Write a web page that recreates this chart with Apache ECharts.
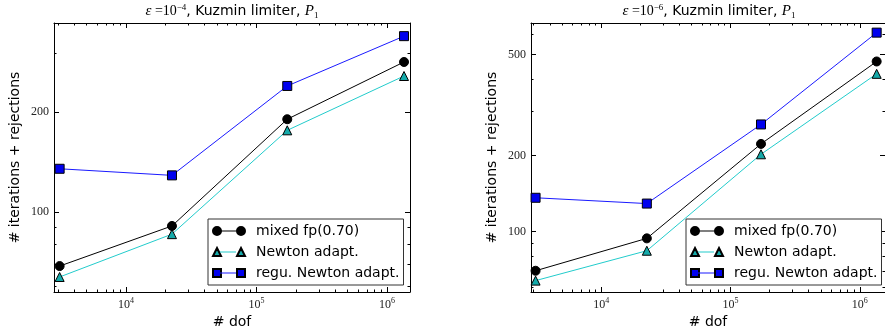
<!DOCTYPE html>
<html>
<head>
<meta charset="utf-8">
<script src="https://cdn.jsdelivr.net/npm/echarts@6/dist/echarts.min.js"></script>
<style>html,body{margin:0;padding:0;background:#fff}#c{width:885px;height:335px}</style>
</head>
<body>
<div id="c"></div>
<script>
// ---- data ----
const dofs = [3100, 22500, 172000, 1350000];
const seriesNames = ['mixed fp(0.70)', 'Newton adapt.', 'regu. Newton adapt.'];
const mixedEps4 = [69, 91, 190, 282];
const newtonEps4 = [64, 86, 176, 256];
const reguEps4 = [135, 129, 239, 337];
const mixedEps6 = [70, 94, 222, 470];
const newtonEps6 = [64, 84, 202, 420];
const reguEps6 = [136, 129, 265, 611];
const xMajorTicks = [1e4, 1e5, 1e6];
const yMajorTicksEps4 = [100, 200];
const yMajorTicksEps6 = [100, 200, 500];
const titlesExp = ['−4', '−6'];

// ---- helpers ----
function minorTicks(lo, hi) {
  const out = [];
  for (let e = Math.floor(Math.log10(lo)); e <= Math.ceil(Math.log10(hi)); e++) {
    for (let m = 1; m <= 9; m++) {
      const v = m * Math.pow(10, e);
      if (v >= lo && v <= hi) out.push(v);
    }
  }
  return out;
}
const black = '#000';
function axesFor(dim, gridIndex, min, max, major, extra) {
  const minor = minorTicks(min, max).filter(v => major.indexOf(v) < 0);
  const sides = dim === 'x' ? ['bottom', 'top'] : ['left', 'right'];
  const base = {
    type: 'log', logBase: 10, gridIndex, min, max,
    splitLine: { show: false }, minorTick: { show: false }, minorSplitLine: { show: false }
  };
  const out = [];
  sides.forEach((pos, si) => {
    out.push(Object.assign({}, base, {
      position: pos,
      axisLine: { show: true, onZero: false, lineStyle: { color: black, width: 1 } },
      axisTick: { show: true, inside: true, length: 5, customValues: major, lineStyle: { color: black, width: 1 } },
      axisLabel: si === 0 ? Object.assign({ show: true, customValues: major }, extra.label) : { show: false }
    }, si === 0 ? extra.name : {}));
    out.push(Object.assign({}, base, {
      position: pos,
      axisLine: { show: false, onZero: false },
      axisTick: { show: true, inside: true, length: 2.5, customValues: minor, lineStyle: { color: black, width: 1 } },
      axisLabel: { show: false }
    }));
  });
  return out;
}
const xLabel = {
  margin: 5,
  formatter: v => '{b|10}{s|' + Math.round(Math.log10(v)) + '}',
  rich: {
    b: { fontFamily: 'Liberation Serif', fontSize: 12, color: '#222' },
    s: { fontFamily: 'Liberation Serif', fontSize: 8, color: '#222', padding: [0, 0, 7, 0] }
  }
};
const yLabel = {
  margin: 5,
  formatter: v => String(Math.round(v)),
  fontFamily: 'Liberation Serif', fontSize: 12, color: '#222'
};
const nameStyle = { fontFamily: 'DejaVu Sans', fontSize: 14, color: '#000' };
const xName = { name: '# dof', nameLocation: 'middle', nameGap: 21, nameTextStyle: nameStyle };
const yName = { name: '# iterations + rejections', nameLocation: 'middle', nameGap: 32, nameRotate: 90, nameTextStyle: nameStyle };

const grids = [
  { left: 54, top: 23, width: 356, height: 269 },
  { left: 531, top: 23, width: 356, height: 269 }
];
const xRanges = [[2807, 1.5e6], [2858, 1.566e6]];
const yRanges = [[57.7, 369], [57.7, 667]];
const yMajors = [yMajorTicksEps4, yMajorTicksEps6];
const dataSets = [[mixedEps4, newtonEps4, reguEps4], [mixedEps6, newtonEps6, reguEps6]];

const xAxes = [], yAxes = [];
grids.forEach((g, i) => {
  xAxes.push(...axesFor('x', i, xRanges[i][0], xRanges[i][1], xMajorTicks, { label: xLabel, name: xName }));
  yAxes.push(...axesFor('y', i, yRanges[i][0], yRanges[i][1], yMajors[i], { label: yLabel, name: yName }));
});

const styles = [
  { symbol: 'circle', size: 9, line: '#000000', fill: '#000000' },
  { symbol: 'triangle', size: 9, line: '#22cccc', fill: '#14aaaa' },
  { symbol: 'rect', size: 9, line: '#1a1aff', fill: '#0000ee' }
];
// legend icons: markers at both ends (drawn with black edge) ...
const markerIcons = [
  'path://M0,5A4,4 0 1,0 8,5A4,4 0 1,0 0,5Z M24,5A4,4 0 1,0 32,5A4,4 0 1,0 24,5Z',
  'path://M4,1L8,9L0,9Z M28,1L32,9L24,9Z',
  'path://M0,1L8,1L8,9L0,9Z M24,1L32,1L32,9L24,9Z'
];
// ... and the connecting line (drawn without edge, in the line colour)
const lineIcon = 'path://M0,1L0,9L0.01,9L0.01,1Z M8,4.5L24,4.5L24,5.5L8,5.5Z M32,1L32,9L31.99,9L31.99,1Z';

const series = [];
dataSets.forEach((sets, gi) => {
  sets.forEach((vals, si) => {
    const st = styles[si];
    series.push({
      type: 'line', name: seriesNames[si],
      xAxisIndex: gi * 4, yAxisIndex: gi * 4,
      data: dofs.map((d, k) => [d, vals[k]]),
      symbol: st.symbol, symbolSize: st.size,
      lineStyle: { color: st.line, width: 1 },
      itemStyle: { color: st.fill, borderColor: '#000', borderWidth: 1 },
      emphasis: { disabled: true }, animation: false, z: 3 + si
    });
  });
});

function legendBase(left) {
  return {
    left, top: 219, orient: 'vertical', padding: [5, 4, 5, 4],
    itemWidth: 32, itemHeight: 10, itemGap: 7,
    borderRadius: 0, selectedMode: false,
    textStyle: { fontFamily: 'DejaVu Sans', fontSize: 14, color: '#000', padding: [0, 0, 0, 6] }
  };
}
function legendsAt(left) {
  const a = Object.assign(legendBase(left), {
    backgroundColor: '#fff', borderColor: '#333', borderWidth: 1, z: 10,
    data: seriesNames.map((n, i) => ({ name: n, icon: markerIcons[i] }))
  });
  const b = Object.assign(legendBase(left), {
    z: 11,
    textStyle: Object.assign({}, legendBase(left).textStyle, { color: 'rgba(0,0,0,0)' }),
    data: seriesNames.map((n, i) => ({
      name: n, icon: lineIcon,
      itemStyle: { color: styles[i].line, borderWidth: 0 }
    }))
  });
  return [a, b];
}

function titleAt(x, exp) {
  const f = { fontWeight: 'normal', color: '#000' };
  return {
    text: '{i|ε}{m| =10}{sup|' + exp + '}{t|, Kuzmin limiter, }{i|P}{sub|1}',
    left: x, top: 3, textAlign: 'center', padding: 0,
    textStyle: {
      fontWeight: 'normal',
      rich: {
        i: Object.assign({ fontFamily: 'Liberation Serif', fontStyle: 'italic', fontSize: 15 }, f),
        m: Object.assign({ fontFamily: 'Liberation Serif', fontSize: 14 }, f),
        sup: Object.assign({ fontFamily: 'Liberation Serif', fontSize: 9, padding: [0, 0, 8, 0] }, f),
        t: Object.assign({ fontFamily: 'DejaVu Sans', fontSize: 14 }, f),
        sub: Object.assign({ fontFamily: 'Liberation Serif', fontSize: 9, padding: [8, 0, 0, 0] }, f)
      }
    }
  };
}

const chart = echarts.init(document.getElementById('c'), null, { renderer: 'canvas' });
chart.setOption({
  animation: false,
  backgroundColor: '#fff',
  title: [titleAt(232, titlesExp[0]), titleAt(709, titlesExp[1])],
  legend: [...legendsAt(208), ...legendsAt(686)],
  grid: grids,
  xAxis: xAxes,
  yAxis: yAxes,
  series
});
</script>
</body>
</html>
